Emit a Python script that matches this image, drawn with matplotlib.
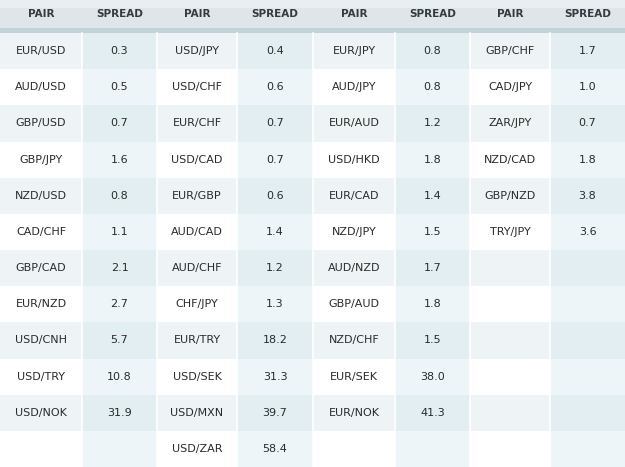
import matplotlib
matplotlib.use("Agg")
import matplotlib.pyplot as plt
from matplotlib.patches import Rectangle

pairs1 = ["EUR/USD","AUD/USD","GBP/USD","GBP/JPY","NZD/USD","CAD/CHF","GBP/CAD","EUR/NZD","USD/CNH","USD/TRY","USD/NOK"]
spread1 = ["0.3","0.5","0.7","1.6","0.8","1.1","2.1","2.7","5.7","10.8","31.9"]
pairs2 = ["USD/JPY","USD/CHF","EUR/CHF","USD/CAD","EUR/GBP","AUD/CAD","AUD/CHF","CHF/JPY","EUR/TRY","USD/SEK","USD/MXN","USD/ZAR"]
spread2 = ["0.4","0.6","0.7","0.7","0.6","1.4","1.2","1.3","18.2","31.3","39.7","58.4"]
pairs3 = ["EUR/JPY","AUD/JPY","EUR/AUD","USD/HKD","EUR/CAD","NZD/JPY","AUD/NZD","GBP/AUD","NZD/CHF","EUR/SEK","EUR/NOK"]
spread3 = ["0.8","0.8","1.2","1.8","1.4","1.5","1.7","1.8","1.5","38.0","41.3"]
pairs4 = ["GBP/CHF","CAD/JPY","ZAR/JPY","NZD/CAD","GBP/NZD","TRY/JPY"]
spread4 = ["1.7","1.0","0.7","1.8","3.8","3.6"]
headers = ["PAIR","SPREAD"] * 4

cols = [pairs1, spread1, pairs2, spread2, pairs3, spread3, pairs4, spread4]
edges = [0, 82, 157, 237, 313, 395, 470, 550, 625]
nrows = 12
top = 33
rh = (467 - top) / nrows

fig = plt.figure(figsize=(6.25, 4.67), dpi=100)
ax = fig.add_axes([0, 0, 1, 1])
ax.set_xlim(0, 625); ax.set_ylim(467, 0); ax.axis("off")

# header
ax.add_patch(Rectangle((0, 0), 625, 28, color="#dfe5e8", lw=0))
ax.add_patch(Rectangle((0, 0), 625, 8, color="#e9eef0", lw=0))
ax.add_patch(Rectangle((0, 28), 625, 5, color="#c3d1d9", lw=0))
for i, h in enumerate(headers):
    ax.text((edges[i] + edges[i+1]) / 2, 14, h, ha="center", va="center",
            fontsize=7.5, fontweight="bold", color="#333a40")

for r in range(nrows):
    y = top + r * rh
    for c in range(8):
        spread = c % 2 == 1
        if r % 2 == 0:
            col = "#e2eef2" if spread else "#eef4f6"
        else:
            col = "#edf5f8" if spread else "#ffffff"
        ax.add_patch(Rectangle((edges[c], y), edges[c+1] - edges[c], rh, color=col, lw=0))
        if r < len(cols[c]):
            ax.text((edges[c] + edges[c+1]) / 2, y + rh / 2, cols[c][r], ha="center",
                    va="center", fontsize=8, color="#2a2a2a")
for e in edges[1:-1]:
    ax.plot([e, e], [top, 467], color="white", lw=1.2)

fig.savefig("out.png", dpi=100)
